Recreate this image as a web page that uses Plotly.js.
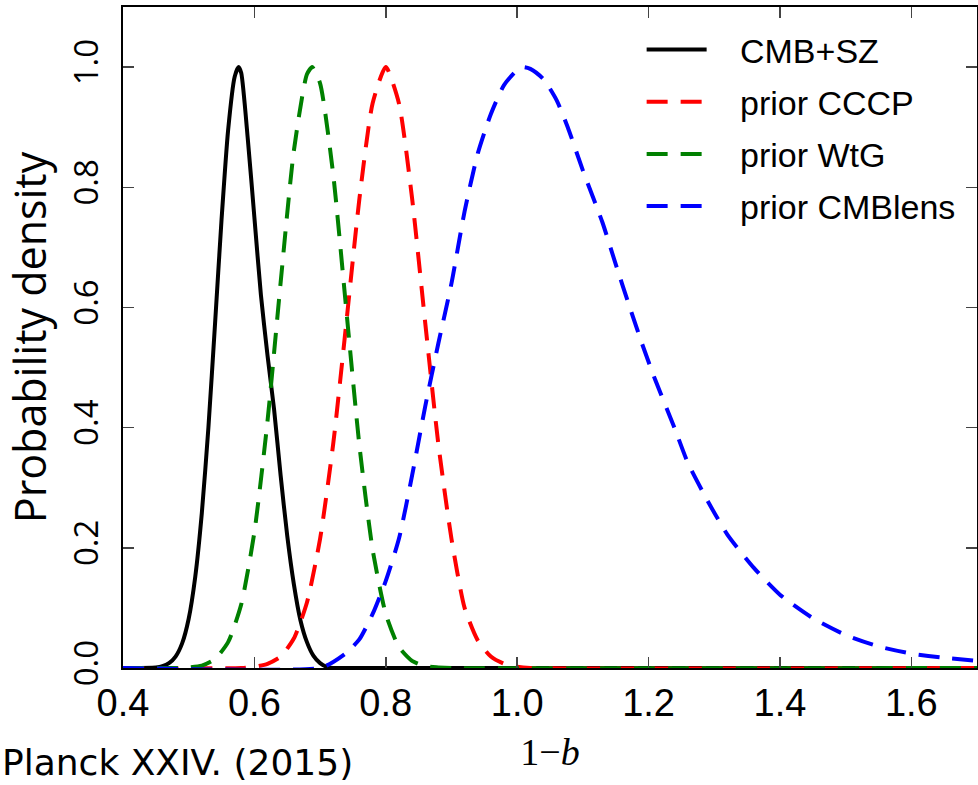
<!DOCTYPE html>
<html>
<head>
<meta charset="utf-8">
<script src="https://cdn.plot.ly/plotly-3.0.1.min.js"></script>
<style>html,body{margin:0;padding:0;background:#fff}#chart{width:978px;height:785px}</style>
</head>
<body>
<div id="chart"></div>
<script>
// CMB+SZ (black, solid)
const cmbszX = [0.40, 0.45, 0.46, 0.47, 0.48, 0.49, 0.50, 0.51, 0.52, 0.53, 0.54, 0.55, 0.56, 0.57, 0.576, 0.58, 0.59, 0.60, 0.61, 0.62, 0.63, 0.64, 0.65, 0.66, 0.67, 0.68, 0.69, 0.70, 0.71, 0.72, 0.75, 1.70];
const cmbszY = [0.0, 0.001, 0.003, 0.008, 0.019, 0.041, 0.082, 0.152, 0.258, 0.40, 0.571, 0.746, 0.895, 0.984, 1.0, 0.99, 0.88, 0.75, 0.62, 0.52, 0.43, 0.32, 0.22, 0.14, 0.08, 0.043, 0.02, 0.008, 0.002, 0.0, 0.0, 0.0];

// prior CCCP (red, dashed)
const cccpX = [0.40, 0.58, 0.60, 0.62, 0.64, 0.66, 0.68, 0.70, 0.72, 0.74, 0.76, 0.78, 0.80, 0.82, 0.84, 0.86, 0.88, 0.90, 0.92, 0.94, 0.96, 0.98, 1.00, 1.02, 1.70];
const cccpY = [0.0, 0.0, 0.002, 0.007, 0.019, 0.049, 0.109, 0.215, 0.373, 0.575, 0.782, 0.94, 1.0, 0.94, 0.782, 0.575, 0.373, 0.215, 0.10, 0.046, 0.019, 0.007, 0.002, 0.0, 0.0];

// prior WtG (green, dashed)
const wtgX = [0.40, 0.48, 0.50, 0.52, 0.54, 0.56, 0.58, 0.60, 0.62, 0.64, 0.66, 0.68, 0.688, 0.70, 0.72, 0.74, 0.76, 0.78, 0.80, 0.82, 0.84, 0.86, 0.88, 0.90, 1.70];
const wtgY = [0.0, 0.0, 0.001, 0.004, 0.015, 0.043, 0.106, 0.226, 0.411, 0.642, 0.86, 0.988, 1.0, 0.973, 0.821, 0.595, 0.369, 0.197, 0.090, 0.035, 0.012, 0.003, 0.001, 0.0, 0.0];

// prior CMBlens (blue, dashed)
const lensX = [0.40, 0.70, 0.72, 0.74, 0.76, 0.78, 0.80, 0.82, 0.84, 0.86, 0.88, 0.90, 0.92, 0.94, 0.96, 0.98, 1.00, 1.01, 1.02, 1.04, 1.06, 1.077, 1.10, 1.13, 1.15, 1.17, 1.19, 1.21, 1.24, 1.26, 1.29, 1.32, 1.36, 1.40, 1.45, 1.50, 1.55, 1.60, 1.65, 1.70];
const lensY = [0.0, 0.0, 0.01, 0.025, 0.048, 0.09, 0.145, 0.215, 0.32, 0.435, 0.54, 0.64, 0.76, 0.856, 0.922, 0.97, 0.995, 1.0, 0.997, 0.98, 0.945, 0.90, 0.828, 0.741, 0.672, 0.605, 0.54, 0.48, 0.398, 0.341, 0.278, 0.222, 0.167, 0.122, 0.083, 0.055, 0.036, 0.024, 0.017, 0.012];

const seriesNames = ['CMB+SZ', 'prior CCCP', 'prior WtG', 'prior CMBlens'];
const seriesColors = ['#000000', '#ff0000', '#008000', '#0000ff'];

const xTickVals = [0.4, 0.6, 0.8, 1.0, 1.2, 1.4, 1.6];
const xTickText = ['0.4', '0.6', '0.8', '1.0', '1.2', '1.4', '1.6'];
const yTickVals = [0.0, 0.2, 0.4, 0.6, 0.8, 1.0];
const yTickText = ['0.0', '0.2', '0.4', '0.6', '0.8', '1.0'];

const xs = [cmbszX, cccpX, wtgX, lensX];
const ys = [cmbszY, cccpY, wtgY, lensY];
const dashes = ['solid', '21px,13px', '21px,13px', '21px,13px'];
const legendPad = '\u00a0\u00a0\u00a0';

const traces = xs.map((x, i) => ({
  type: 'scatter',
  mode: 'lines',
  x: x,
  y: ys[i],
  name: legendPad + seriesNames[i],
  legendgroup: 'g' + i,
  line: {color: seriesColors[i], width: 4, dash: dashes[i], shape: 'spline', smoothing: 0.6},
  hoverinfo: 'skip'
}));

const layout = {
  width: 978,
  height: 785,
  margin: {l: 123, r: 1, t: 7, b: 117},
  paper_bgcolor: '#ffffff',
  plot_bgcolor: '#ffffff',
  showlegend: true,
  legend: {
    x: 0.6073, y: 0.979, xanchor: 'left', yanchor: 'top',
    bgcolor: 'rgba(0,0,0,0)', borderwidth: 0,
    font: {family: 'Liberation Sans, Arial, sans-serif', size: 34, color: '#000'},
    tracegroupgap: 5,
    itemwidth: 60
  },
  xaxis: {
    range: [0.4, 1.7],
    tickvals: xTickVals, ticktext: xTickText,
    ticks: 'inside', ticklen: 11, tickwidth: 1.5, tickcolor: '#444',
    showline: true, linecolor: '#000', linewidth: 2, mirror: 'allticks',
    showgrid: false, zeroline: false,
    ticklabelstandoff: 0,
    tickfont: {family: 'Liberation Sans, Arial, sans-serif', size: 38, color: '#000'},
    title: {text: '1−<i>b</i>', font: {family: 'Liberation Serif, DejaVu Serif, serif', size: 38, color: '#000'}, standoff: 16}
  },
  yaxis: {
    range: [0, 1.1],
    tickvals: yTickVals, ticktext: yTickText,
    ticks: 'inside', ticklen: 11, tickwidth: 1.5, tickcolor: '#444',
    showline: true, linecolor: '#000', linewidth: 2, mirror: 'allticks',
    showgrid: false, zeroline: false,
    tickangle: -90,
    ticklabelstandoff: 10,
    tickfont: {family: 'Open Sans, Noto Sans, sans-serif', size: 33, color: '#000'},
    title: {text: 'Probability density', font: {family: 'Open Sans, Noto Sans, sans-serif', size: 43, color: '#000'}, standoff: 4}
  },
  annotations: [{
    text: 'Planck XXIV. (2015)',
    xref: 'paper', yref: 'paper',
    x: -0.1439, y: -0.1775, xanchor: 'left', yanchor: 'bottom',
    showarrow: false,
    font: {family: 'DejaVu Sans, sans-serif', size: 36, color: '#000'}
  }]
};

Plotly.newPlot('chart', traces, layout, {displayModeBar: false, staticPlot: true});
</script>
</body>
</html>
